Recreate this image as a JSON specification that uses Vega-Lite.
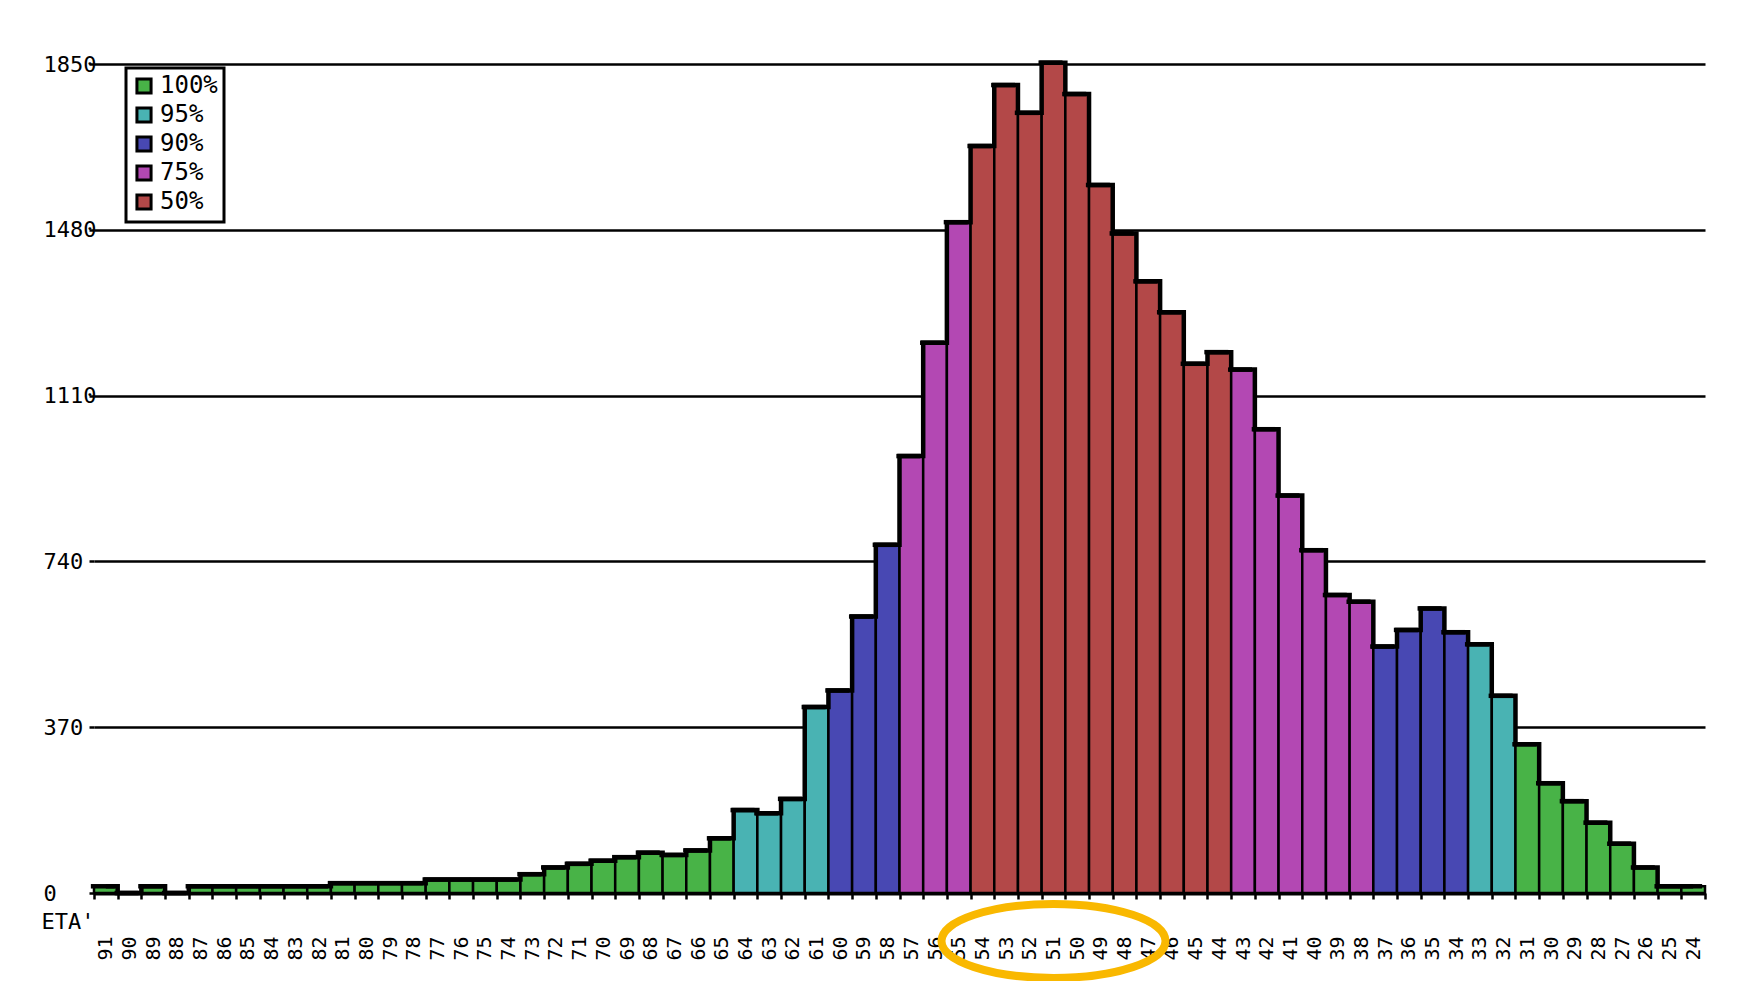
{
  "$schema": "https://vega.github.io/schema/vega-lite/v6.json",
  "width": 1611,
  "height": 829,
  "autosize": {"type": "none"},
  "padding": {"left": 94, "top": 64, "right": 53, "bottom": 88},
  "background": "white",
  "config": {
    "font": "DejaVu Sans Mono",
    "view": {"stroke": null},
    "axis": {"labelFont": "DejaVu Sans Mono", "titleFont": "DejaVu Sans Mono", "labelColor": "black", "titleColor": "black"},
    "legend": {"labelFont": "DejaVu Sans Mono", "strokeWidth": 3}
  },
  "datasets": {
    "ages": [
      {"age": 91, "count": 15, "band": "100%"},
      {"age": 90, "count": 0, "band": "100%"},
      {"age": 89, "count": 15, "band": "100%"},
      {"age": 88, "count": 0, "band": "100%"},
      {"age": 87, "count": 15, "band": "100%"},
      {"age": 86, "count": 15, "band": "100%"},
      {"age": 85, "count": 15, "band": "100%"},
      {"age": 84, "count": 15, "band": "100%"},
      {"age": 83, "count": 15, "band": "100%"},
      {"age": 82, "count": 15, "band": "100%"},
      {"age": 81, "count": 22, "band": "100%"},
      {"age": 80, "count": 22, "band": "100%"},
      {"age": 79, "count": 22, "band": "100%"},
      {"age": 78, "count": 22, "band": "100%"},
      {"age": 77, "count": 30, "band": "100%"},
      {"age": 76, "count": 30, "band": "100%"},
      {"age": 75, "count": 30, "band": "100%"},
      {"age": 74, "count": 30, "band": "100%"},
      {"age": 73, "count": 42, "band": "100%"},
      {"age": 72, "count": 57, "band": "100%"},
      {"age": 71, "count": 65, "band": "100%"},
      {"age": 70, "count": 72, "band": "100%"},
      {"age": 69, "count": 80, "band": "100%"},
      {"age": 68, "count": 90, "band": "100%"},
      {"age": 67, "count": 85, "band": "100%"},
      {"age": 66, "count": 95, "band": "100%"},
      {"age": 65, "count": 122, "band": "100%"},
      {"age": 64, "count": 185, "band": "95%"},
      {"age": 63, "count": 178, "band": "95%"},
      {"age": 62, "count": 210, "band": "95%"},
      {"age": 61, "count": 415, "band": "95%"},
      {"age": 60, "count": 452, "band": "90%"},
      {"age": 59, "count": 617, "band": "90%"},
      {"age": 58, "count": 777, "band": "90%"},
      {"age": 57, "count": 975, "band": "75%"},
      {"age": 56, "count": 1228, "band": "75%"},
      {"age": 55, "count": 1497, "band": "75%"},
      {"age": 54, "count": 1667, "band": "50%"},
      {"age": 53, "count": 1803, "band": "50%"},
      {"age": 52, "count": 1741, "band": "50%"},
      {"age": 51, "count": 1853, "band": "50%"},
      {"age": 50, "count": 1783, "band": "50%"},
      {"age": 49, "count": 1580, "band": "50%"},
      {"age": 48, "count": 1472, "band": "50%"},
      {"age": 47, "count": 1365, "band": "50%"},
      {"age": 46, "count": 1296, "band": "50%"},
      {"age": 45, "count": 1181, "band": "50%"},
      {"age": 44, "count": 1207, "band": "50%"},
      {"age": 43, "count": 1168, "band": "75%"},
      {"age": 42, "count": 1035, "band": "75%"},
      {"age": 41, "count": 887, "band": "75%"},
      {"age": 40, "count": 765, "band": "75%"},
      {"age": 39, "count": 665, "band": "75%"},
      {"age": 38, "count": 650, "band": "75%"},
      {"age": 37, "count": 550, "band": "90%"},
      {"age": 36, "count": 587, "band": "90%"},
      {"age": 35, "count": 635, "band": "90%"},
      {"age": 34, "count": 582, "band": "90%"},
      {"age": 33, "count": 555, "band": "95%"},
      {"age": 32, "count": 440, "band": "95%"},
      {"age": 31, "count": 332, "band": "100%"},
      {"age": 30, "count": 245, "band": "100%"},
      {"age": 29, "count": 205, "band": "100%"},
      {"age": 28, "count": 157, "band": "100%"},
      {"age": 27, "count": 110, "band": "100%"},
      {"age": 26, "count": 57, "band": "100%"},
      {"age": 25, "count": 15, "band": "100%"},
      {"age": 24, "count": 15, "band": "100%"}
    ],
    "note": [
      {"age": 51, "count": -107}
    ]
  },
  "encoding": {
    "x": {
      "field": "age",
      "type": "ordinal",
      "sort": "descending",
      "scale": {"paddingInner": 0, "paddingOuter": 0},
      "axis": {
        "title": "ETA'",
        "titleX": -53,
        "titleY": 18,
        "titleAlign": "left",
        "titleBaseline": "top",
        "titleAngle": 0,
        "titleFontSize": 22,
        "titleFontWeight": "normal",
        "labelAngle": -90,
        "labelFontSize": 20,
        "labelPadding": 37,
        "tickBand": "extent",
        "tickSize": 6,
        "tickWidth": 2.5,
        "tickColor": "black",
        "domainColor": "black",
        "domainWidth": 4,
        "grid": false
      }
    },
    "y": {
      "field": "count",
      "type": "quantitative",
      "scale": {"domain": [0, 1850], "nice": false, "zero": true},
      "axis": {
        "title": null,
        "values": [0, 370, 740, 1110, 1480, 1850],
        "format": "d",
        "grid": true,
        "gridColor": "black",
        "gridWidth": 2.5,
        "gridOpacity": 1,
        "domain": false,
        "tickSize": 5,
        "tickWidth": 2.5,
        "tickColor": "black",
        "labelAlign": "left",
        "labelPadding": 46,
        "labelFontSize": 22,
        "labelBaseline": "middle"
      }
    }
  },
  "layer": [
    {
      "data": {"name": "ages"},
      "mark": {"type": "bar", "stroke": "black", "strokeWidth": 2.5},
      "encoding": {
        "color": {
          "field": "band",
          "type": "nominal",
          "scale": {
            "domain": ["100%", "95%", "90%", "75%", "50%"],
            "range": ["#48B347", "#49B3B3", "#4848B3", "#B348B3", "#B34848"]
          },
          "legend": {
            "title": null,
            "orient": "none",
            "legendX": 32,
            "legendY": 4,
            "direction": "vertical",
            "padding": 6,
            "strokeColor": "black",
            "fillColor": "white",
            "symbolType": "square",
            "symbolSize": 200,
            "symbolStrokeColor": "black",
            "symbolStrokeWidth": 3,
            "symbolOpacity": 1,
            "labelFontSize": 24,
            "labelColor": "black",
            "labelOffset": 4,
            "rowPadding": 1,
            "labelExpr": "datum.value === '100%' ? datum.label : '\u2007' + datum.label"
          }
        }
      }
    },
    {
      "data": {"name": "ages"},
      "mark": {"type": "line", "interpolate": "step", "color": "black", "strokeWidth": 4.5},
      "encoding": {}
    },
    {
      "data": {"name": "ages"},
      "mark": {"type": "tick", "color": "black", "thickness": 4.5, "size": 24, "xOffset": -3, "opacity": 1},
      "encoding": {}
    },
    {
      "data": {"name": "note"},
      "mark": {
        "type": "point",
        "shape": "M -1 0 A 1 0.33 0 1 1 1 0 A 1 0.33 0 1 1 -1 0 Z",
        "size": 50176,
        "filled": false,
        "stroke": "#F9B800",
        "strokeWidth": 8,
        "opacity": 1
      },
      "encoding": {}
    }
  ]
}
